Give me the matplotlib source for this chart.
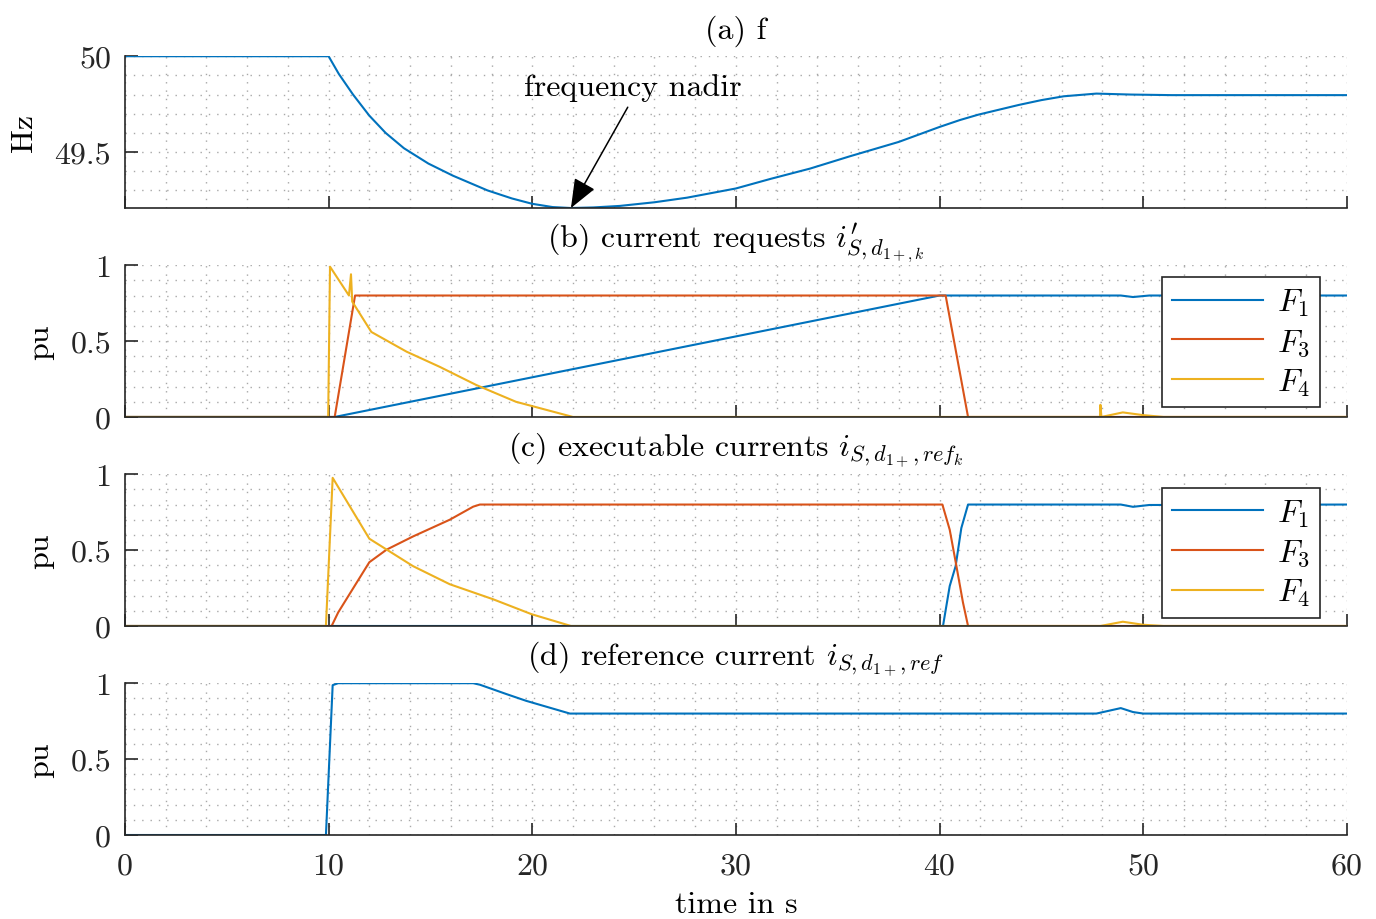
import matplotlib
matplotlib.use('Agg')
import matplotlib.pyplot as plt
from matplotlib.ticker import MultipleLocator

plt.rcParams['font.family'] = ['cmr10', 'DejaVu Serif']
plt.rcParams['mathtext.fontset'] = 'cm'
plt.rcParams['axes.unicode_minus'] = False

BLUE = '#0072BD'
RED = '#D95319'
YELLOW = '#EDB120'
AX_COL = '#262626'
FS = 23

# (a) grid frequency
t_f = [0, 10, 10.5, 11.2, 12.0, 12.8, 13.7, 14.9, 16.1, 17.8, 19.0, 20.0, 21.0, 21.9,
       23.0, 24.3, 26.0, 27.6, 29.0, 30.0, 31.7, 33.65, 35.6, 38.0, 40.0, 41.0, 41.9,
       43.9, 45.0, 46.1, 47.7, 49.4, 51.4, 60]
f_hz = [50, 50, 49.908, 49.80, 49.69, 49.60, 49.52, 49.44, 49.377, 49.30, 49.258,
        49.23, 49.213, 49.208, 49.211, 49.219, 49.238, 49.262, 49.29, 49.31, 49.36,
        49.414, 49.478, 49.553, 49.631, 49.667, 49.695, 49.746, 49.771, 49.791,
        49.805, 49.80, 49.797, 49.797]

# (b) current requests
t_b1 = [0, 10.3, 40.0, 48.9, 49.5, 50.3, 60]
F1_b = [0, 0, 0.8, 0.8, 0.79, 0.8, 0.8]
t_b3 = [0, 10.3, 11.3, 40.3, 41.4, 60]
F3_b = [0, 0, 0.8, 0.8, 0, 0]
t_b4 = [0, 9.98, 10.07, 11.0, 11.1, 11.16, 12.1, 13.83, 15.46, 17.26, 19.2, 22.0,
        47.88, 47.9, 47.95, 49.0, 50.0, 51.0, 60]
F4_b = [0, 0, 0.99, 0.80, 0.94, 0.76, 0.56, 0.43, 0.33, 0.21, 0.10, 0,
        0, 0.08, 0, 0.03, 0.012, 0, 0]

# (c) executable currents
t_c1 = [0, 40.17, 40.5, 40.79, 41.07, 41.4, 48.9, 49.5, 50.3, 60]
F1_c = [0, 0, 0.263, 0.394, 0.645, 0.8, 0.8, 0.785, 0.797, 0.8]
t_c3 = [0, 10.15, 10.47, 12.0, 12.85, 14.15, 15.95, 17.1, 17.43, 40.14, 40.5,
        40.83, 41.15, 41.4, 60]
F3_c = [0, 0, 0.089, 0.42, 0.503, 0.59, 0.70, 0.786, 0.8, 0.8, 0.634, 0.394,
        0.155, 0, 0]
t_c4 = [0, 9.87, 10.2, 12.0, 14.15, 15.95, 18.08, 19.96, 21.9, 47.9, 49.0, 50.0, 51.0, 60]
F4_c = [0, 0, 0.976, 0.575, 0.394, 0.275, 0.176, 0.078, 0, 0, 0.028, 0.008, 0, 0]

# (d) reference current
t_d = [0, 9.87, 10.2, 10.47, 17.1, 17.43, 18.74, 19.7, 21.85, 47.7, 48.9, 49.5, 50.0, 60]
i_ref = [0, 0, 0.987, 1.0, 1.0, 0.99, 0.928, 0.884, 0.8, 0.8, 0.836, 0.81, 0.8, 0.8]

x_ticks = [0, 10, 20, 30, 40, 50, 60]
pu_ticks = [0, 0.5, 1]
pu_labels = ['0', '0.5', '1']
hz_ticks = [49.5, 50]
hz_labels = ['49.5', '50']

titles = [r'(a) f',
          r"(b) current requests $i^{\prime}_{S,d_{1+,k}}$",
          r'(c) executable currents $i_{S,d_{1+},ref_k}$',
          r'(d) reference current $i_{S,d_{1+},ref}$']
legend_labels = ['$F_1$', '$F_3$', '$F_4$']

fig = plt.figure(figsize=(13.76, 9.2), dpi=100)
left, width, height = 0.0908, 0.888, 0.165
bottoms = [0.7728, 0.5457, 0.3185, 0.0913]
axes = [fig.add_axes([left, b, width, height]) for b in bottoms]


def style_axis(ax, title):
    ax.set_xlim(0, 60)
    ax.set_xticks(x_ticks)
    ax.xaxis.set_minor_locator(MultipleLocator(2))
    for s in ['top', 'right']:
        ax.spines[s].set_visible(False)
    for s in ['left', 'bottom']:
        ax.spines[s].set_color(AX_COL)
        ax.spines[s].set_linewidth(1.2)
    ax.tick_params(which='major', direction='in', length=9, width=1.2,
                   color=AX_COL, labelsize=FS, labelcolor=AX_COL)
    ax.tick_params(axis='x', which='major', pad=12)
    ax.tick_params(axis='y', which='major', pad=10)
    ax.tick_params(which='minor', length=0)
    ax.grid(which='both', color='#a8a8a8', linestyle=(0, (1, 5)), linewidth=1.0)
    ax.set_axisbelow(True)
    ax.set_title(title, fontsize=FS, pad=13)


# (a)
ax = axes[0]
ax.plot(t_f, f_hz, color=BLUE, lw=1.5)
style_axis(ax, titles[0])
ax.set_ylim(49.208, 50)
ax.set_yticks(hz_ticks)
ax.set_yticklabels(hz_labels)
ax.yaxis.set_minor_locator(MultipleLocator(0.1))
ax.set_ylabel('Hz', fontsize=FS, labelpad=12)
ax.set_xticklabels([])
ax.text(24.94, 49.84, 'frequency nadir', fontsize=FS, ha='center', va='center')
ax.annotate('', xy=(21.9, 49.208), xytext=(24.69, 49.734),
            arrowprops=dict(arrowstyle='-|>,head_length=0.9,head_width=0.36',
                            color='black', lw=1.1, mutation_scale=20,
                            shrinkA=0, shrinkB=0))

# (b), (c)
panel_data = [
    (t_b1, F1_b, t_b3, F3_b, t_b4, F4_b, 0.92),
    (t_c1, F1_c, t_c3, F3_c, t_c4, F4_c, 0.91),
]
for k, (ta, ya, tb, yb, tc, yc, top) in enumerate(panel_data):
    ax = axes[k + 1]
    ax.plot(ta, ya, color=BLUE, lw=1.5, label=legend_labels[0])
    ax.plot(tb, yb, color=RED, lw=1.5, label=legend_labels[1])
    ax.plot(tc, yc, color=YELLOW, lw=1.5, label=legend_labels[2])
    style_axis(ax, titles[k + 1])
    ax.set_ylim(0, 1)
    ax.set_yticks(pu_ticks)
    ax.set_yticklabels(pu_labels)
    ax.yaxis.set_minor_locator(MultipleLocator(0.1))
    ax.set_ylabel('pu', fontsize=FS, labelpad=12)
    ax.set_xticklabels([])
    leg = ax.legend(loc='upper left', bbox_to_anchor=(0.849, top), borderaxespad=0,
                    fontsize=FS, borderpad=0.3, handlelength=2.85, handletextpad=0.45,
                    labelspacing=0.27, fancybox=False, framealpha=1, edgecolor=AX_COL)
    leg.get_frame().set_linewidth(1.2)

# (d)
ax = axes[3]
ax.plot(t_d, i_ref, color=BLUE, lw=1.5)
style_axis(ax, titles[3])
ax.set_ylim(0, 1)
ax.set_yticks(pu_ticks)
ax.set_yticklabels(pu_labels)
ax.yaxis.set_minor_locator(MultipleLocator(0.1))
ax.set_ylabel('pu', fontsize=FS, labelpad=12)
ax.set_xticklabels([str(v) for v in x_ticks])
ax.set_xlabel('time in s', fontsize=FS, labelpad=8)

fig.savefig('out.png', dpi=100)
